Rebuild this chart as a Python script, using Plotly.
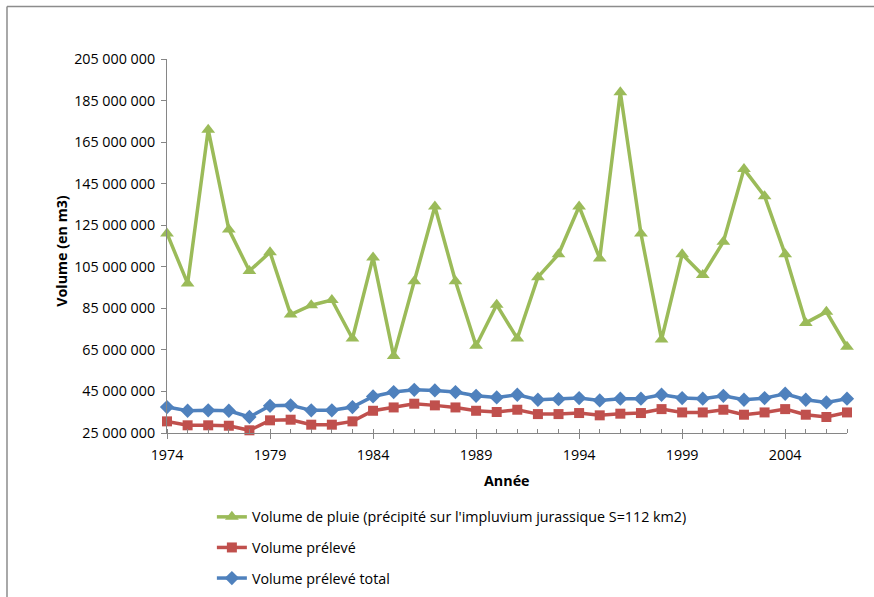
import plotly.graph_objects as go

# Years of the series
years = list(range(1974, 2008))

# Rainfall volume over the Jurassic catchment (m3)
pluie = [121e6, 97e6, 171e6, 123e6, 103e6, 112e6, 82e6, 86.5e6, 89e6, 70.5e6,
         109.5e6, 62e6, 98e6, 134e6, 98e6, 67e6, 86.7e6, 70.5e6, 100e6, 111e6,
         134e6, 109e6, 189e6, 121e6, 70e6, 111e6, 101e6, 117e6, 152e6, 139e6,
         111e6, 78e6, 83.3e6, 66.5e6]

# Withdrawn volume (m3)
preleve = [30.6e6, 28.7e6, 28.7e6, 28.5e6, 26.3e6, 31.1e6, 31.4e6, 29e6, 29e6, 30.6e6,
           35.7e6, 37.3e6, 39.1e6, 38.3e6, 37.3e6, 35.7e6, 35.1e6, 36.2e6, 34.1e6, 34.1e6,
           34.6e6, 33.5e6, 34.3e6, 34.6e6, 36.5e6, 34.9e6, 34.9e6, 36.2e6, 33.8e6, 34.9e6,
           36.5e6, 33.8e6, 32.7e6, 34.9e6]

# Total withdrawn volume (m3)
preleve_total = [37.5e6, 35.7e6, 35.9e6, 35.7e6, 32.7e6, 38.1e6, 38.3e6, 35.9e6, 35.9e6, 37.5e6,
                 42.6e6, 44.7e6, 45.8e6, 45.5e6, 44.7e6, 42.9e6, 42.1e6, 43.4e6, 41e6, 41.3e6,
                 41.8e6, 40.7e6, 41.5e6, 41.5e6, 43.4e6, 41.8e6, 41.5e6, 42.9e6, 41e6, 41.8e6,
                 43.9e6, 41e6, 39.7e6, 41.5e6]

y_ticks = list(range(25_000_000, 205_000_001, 20_000_000))

GREEN = "#9BBB59"
RED = "#C0504D"
BLUE = "#4F81BD"
FONT = "Open Sans"
FS = 14.3

fig = go.Figure()
fig.add_trace(go.Scatter(
    x=years, y=pluie, mode="lines+markers",
    name="Volume de pluie (précipité sur l'impluvium jurassique S=112 km2)",
    line=dict(color=GREEN, width=3.5),
    marker=dict(symbol="triangle-up", size=12, color=GREEN),
    cliponaxis=False, legendgroup="a",
))
fig.add_trace(go.Scatter(
    x=years, y=preleve, mode="lines+markers", name="Volume prélevé",
    line=dict(color=RED, width=3.5),
    marker=dict(symbol="square", size=10, color=RED),
    cliponaxis=False, legendgroup="b",
))
fig.add_trace(go.Scatter(
    x=years, y=preleve_total, mode="lines+markers", name="Volume prélevé total",
    line=dict(color=BLUE, width=3.5),
    marker=dict(symbol="diamond", size=11, color=BLUE),
    cliponaxis=False, legendgroup="c",
))

fig.update_layout(
    width=874, height=597,
    margin=dict(l=167, r=27, t=59, b=164, autoexpand=False),
    paper_bgcolor="white", plot_bgcolor="white",
    separators=", ",
    font=dict(family=FONT, size=FS, color="#000000"),
    showlegend=True,
    legend=dict(
        x=0.066, y=-0.182, xanchor="left", yanchor="top",
        orientation="v", tracegroupgap=9,
        font=dict(family=FONT, size=FS, color="#000000"),
        bgcolor="rgba(0,0,0,0)",
    ),
    xaxis=dict(
        range=[1974, 2007],
        tick0=1974, dtick=5,
        showgrid=False, zeroline=False,
        showline=True, linecolor="#868686", linewidth=1,
        ticks="outside", ticklen=5, tickcolor="#868686",
        minor=dict(dtick=1, tick0=1974, ticks="inside", ticklen=4, tickcolor="#868686", showgrid=False),
        ticklabelstandoff=4,
        tickfont=dict(family=FONT, size=FS),
    ),
    yaxis=dict(
        range=[25_000_000, 205_000_000],
        tickvals=y_ticks, tickformat=",d",
        showgrid=False, zeroline=False,
        showline=True, linecolor="#868686", linewidth=1,
        ticks="outside", ticklen=5, tickcolor="#868686",
        ticklabelstandoff=3,
        tickfont=dict(family=FONT, size=FS),
    ),
    annotations=[
        dict(text="<b>Volume (en m3)</b>", xref="paper", yref="paper",
             x=0, y=0.487, xshift=-105, textangle=-90, showarrow=False,
             xanchor="center", yanchor="middle",
             font=dict(family=FONT, size=FS, color="#000000")),
        dict(text="<b>Année</b>", xref="paper", yref="paper",
             x=0.5, y=-0.128, showarrow=False, xanchor="center", yanchor="middle",
             font=dict(family=FONT, size=FS, color="#000000")),
    ],
    shapes=[
        dict(type="line", xref="paper", yref="paper",
             x0=-0.2353, x1=-0.2353, y0=1.1404, y1=-0.46,
             line=dict(color="#8c8c8c", width=1.5)),
        dict(type="line", xref="paper", yref="paper",
             x0=-0.2353, x1=1.06, y0=1.1404, y1=1.1404,
             line=dict(color="#8c8c8c", width=1.5)),
    ],
)

fig.write_html("out.html")
